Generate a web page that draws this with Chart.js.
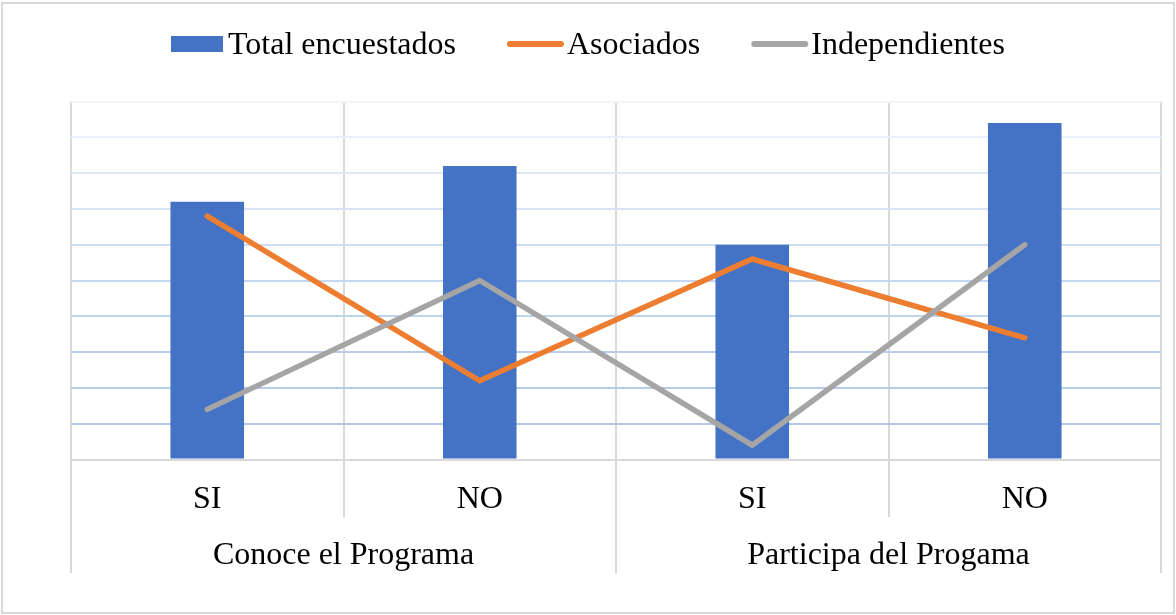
<!DOCTYPE html>
<html lang="es">
<head>
<meta charset="utf-8">
<title>Conoce / Participa del Programa</title>
<script src="https://cdn.jsdelivr.net/npm/chart.js@4.4.1/dist/chart.umd.min.js"></script>
<style>
  html, body { margin: 0; padding: 0; background: #fff; }
  .contenedor { position: absolute; left: 0; top: 0; width: 1176px; height: 615px; }
  .marco { position: absolute; left: 1px; top: 2px; width: 1174px; height: 612px;
           box-sizing: border-box; border: 2px solid #d9d9d9; pointer-events: none; }
</style>
</head>
<body>
<div class="contenedor">
  <canvas id="graficoPrograma"></canvas>
</div>
<div class="marco"></div>
<script>
const categorias = ['SI', 'NO', 'SI', 'NO'];
const grupos = ['Conoce el Programa', 'Participa del Progama'];
const totalEncuestados = [72, 82, 60, 94];
const asociados = [68, 22, 56, 34];
const independientes = [14, 50, 4, 60];

const FUENTE = '"Liberation Serif", "Times New Roman", serif';

// gridlines fade from blue (bottom) to almost white (top), like the original
function colorGrid(ctx) {
  const v = ctx.tick ? ctx.tick.value : 0;
  if (v <= 0) return 'rgba(0,0,0,0)';
  const t = Math.min(Math.max((v - 10) / 90, 0), 1);
  const f = Math.pow(t, 1.3);
  const r = Math.round(174 + (243 - 174) * f);
  const g = Math.round(201 + (245 - 201) * f);
  const b = Math.round(232 + (251 - 232) * f);
  return `rgb(${r},${g},${b})`;
}

// legend drawn on the canvas: box for bars, short thick line for lines
const leyendaPlugin = {
  id: 'leyenda',
  afterDraw(chart) {
    const ctx = chart.ctx;
    const y = 44;
    ctx.save();
    ctx.font = '32px ' + FUENTE;
    ctx.textBaseline = 'middle';
    const items = chart.data.datasets.map(ds => {
      const esBarra = ds.type === 'bar';
      return {
        texto: ds.label,
        color: esBarra ? ds.backgroundColor : ds.borderColor,
        esBarra,
        marca: esBarra ? 52 : 57,
        hueco: esBarra ? 5 : 3,
        ancho: ctx.measureText(ds.label).width
      };
    });
    const separacion = 51;
    let total = 0;
    items.forEach(it => { total += it.marca + it.hueco + it.ancho; });
    total += separacion * (items.length - 1);
    let x = (chart.width - total) / 2;
    items.forEach(it => {
      if (it.esBarra) {
        ctx.fillStyle = it.color;
        ctx.fillRect(x, y - 8, it.marca, 16);
      } else {
        ctx.strokeStyle = it.color;
        ctx.lineWidth = 6;
        ctx.lineCap = 'round';
        ctx.beginPath();
        ctx.moveTo(x + 3, y);
        ctx.lineTo(x + it.marca - 3, y);
        ctx.stroke();
      }
      x += it.marca + it.hueco;
      ctx.fillStyle = '#000';
      ctx.fillText(it.texto, x, y + 2);
      x += it.ancho + separacion;
    });
    ctx.restore();
  }
};

const ctx = document.getElementById('graficoPrograma').getContext('2d');
new Chart(ctx, {
  type: 'bar',
  data: {
    labels: categorias,
    datasets: [
      {
        type: 'bar',
        label: 'Total encuestados',
        data: totalEncuestados,
        backgroundColor: '#4472C4',
        borderWidth: 0,
        barPercentage: 0.27,
        categoryPercentage: 1,
        order: 3
      },
      {
        type: 'line',
        label: 'Asociados',
        data: asociados,
        borderColor: '#ED7D31',
        backgroundColor: '#ED7D31',
        borderWidth: 5.5,
        borderCapStyle: 'round',
        pointRadius: 0,
        tension: 0,
        order: 2
      },
      {
        type: 'line',
        label: 'Independientes',
        data: independientes,
        borderColor: '#A5A5A5',
        backgroundColor: '#A5A5A5',
        borderWidth: 5.5,
        borderCapStyle: 'round',
        pointRadius: 0,
        tension: 0,
        order: 1
      }
    ]
  },
  options: {
    responsive: true,
    maintainAspectRatio: false,
    animation: false,
    layout: { padding: { left: 71, right: 15, top: 101.5, bottom: 42.5 } },
    plugins: {
      legend: { display: false },
      tooltip: { enabled: false }
    },
    scales: {
      x: {
        type: 'category',
        position: 'bottom',
        weight: 0,
        offset: true,
        grid: {
          offset: true,
          color: '#d9d9d9',
          lineWidth: 2,
          drawTicks: true,
          tickLength: 57.5,
          tickColor: '#d9d9d9',
          tickWidth: 2
        },
        border: { color: '#d9d9d9', width: 2 },
        ticks: {
          font: { family: FUENTE, size: 32 },
          color: '#000',
          padding: -36.2,
          autoSkip: false,
          maxRotation: 0
        },
        afterFit(scale) { scale.height = 56.5; }
      },
      grupos: {
        type: 'category',
        axis: 'x',
        labels: grupos,
        position: 'bottom',
        weight: 1,
        offset: true,
        grid: {
          offset: true,
          drawOnChartArea: false,
          color: '#d9d9d9',
          lineWidth: 2,
          drawTicks: true,
          tickLength: 57,
          tickColor: '#d9d9d9',
          tickWidth: 2
        },
        border: { display: false },
        ticks: {
          font: { family: FUENTE, size: 32 },
          color: '#000',
          padding: -36.2,
          autoSkip: false,
          maxRotation: 0
        },
        afterFit(scale) { scale.height = 56.5; }
      },
      y: {
        min: 0,
        max: 100,
        ticks: { display: false, stepSize: 10 },
        grid: { color: colorGrid, lineWidth: 2, drawTicks: false },
        border: { display: false }
      }
    }
  },
  plugins: [leyendaPlugin]
});
</script>
</body>
</html>
